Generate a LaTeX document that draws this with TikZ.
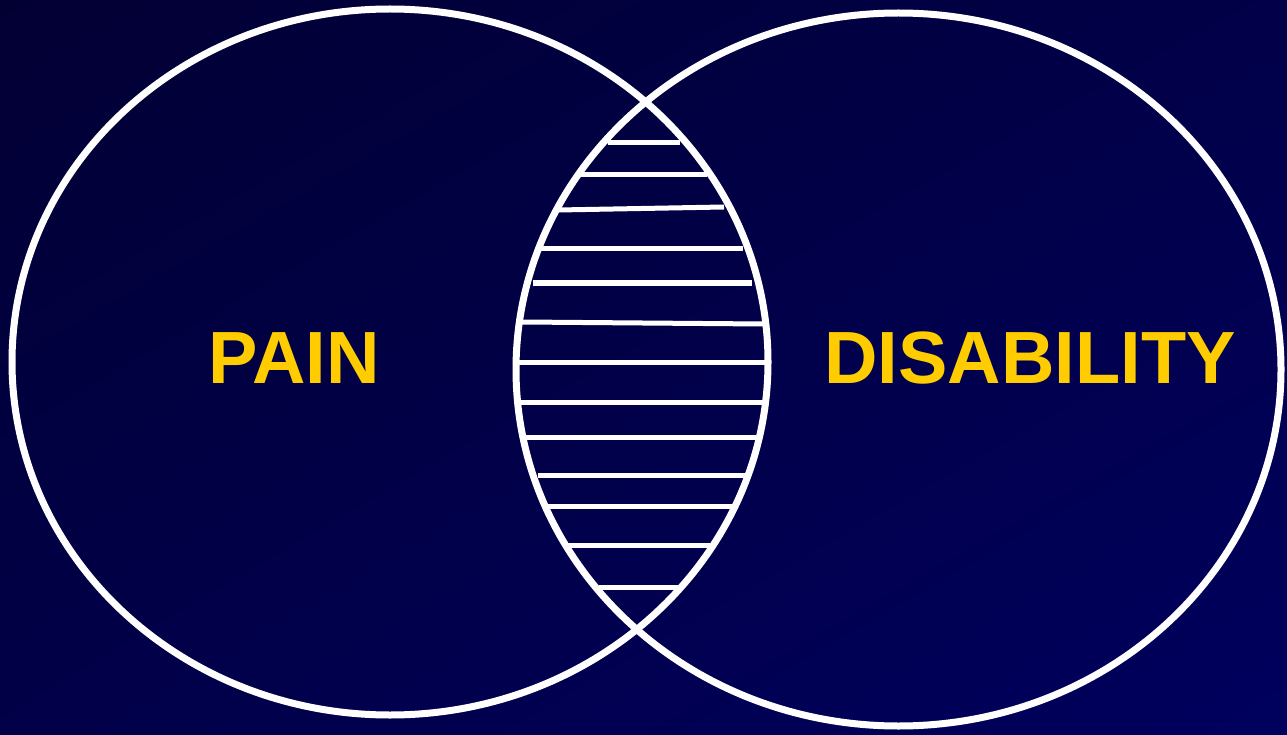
\documentclass[tikz,border=0pt]{standalone}
\usepackage{fontspec}
\setmainfont{Liberation Sans}
\usepackage{tikz}
\usetikzlibrary{shapes.geometric,shadings}

\definecolor{bgdark}{HTML}{020033}
\definecolor{bgmid}{HTML}{010048}
\definecolor{bglight}{HTML}{00005E}
\definecolor{labelgold}{HTML}{FFCC00}

\begin{document}
\begin{tikzpicture}[x=1pt, y=-1pt]
            \tikzset{set/.style={ellipse, draw=white, line width=7pt, inner sep=0pt}}
            \tikzset{hatch/.style={draw=white, line width=5pt}}
            \tikzset{setlabel/.style={text=labelgold, font=\fontsize{74}{74}\selectfont\bfseries}}

            % background
            \shade[upper left=bgdark, upper right=bgmid, lower left=bgmid, lower right=bglight]
                (0,0) rectangle (1287,735);
            \useasboundingbox (0,0) rectangle (1287,735);

            % the two sets
            \node[set, minimum width=756pt, minimum height=706pt] (pain) at (390,362) {};
            \node[set, minimum width=765pt, minimum height=713pt] (disability) at (898.5,369.5) {};

            % hatching of the overlap
            \draw[hatch] (608,143) -- (680,143);
            \draw[hatch] (580,175) -- (707,175);
            \draw[hatch] (558,210) -- (724,207);
            \draw[hatch] (540,249) -- (743,249);
            \draw[hatch] (533,283) -- (752,283);
            \draw[hatch] (522,322) -- (763,324);
            \draw[hatch] (518,362) -- (765,362);
            \draw[hatch] (521,402) -- (763,402);
            \draw[hatch] (526,437) -- (756,437);
            \draw[hatch] (538,475) -- (746,475);
            \draw[hatch] (547,506) -- (732,506);
            \draw[hatch] (568,545) -- (710,545);
            \draw[hatch] (599,587) -- (678,587);

            % labels
            \node[setlabel] (painlabel) at (294,358) {PAIN};
            \node[setlabel] (disabilitylabel) at (1030,358) {DISABILITY};
\end{tikzpicture}
\end{document}
